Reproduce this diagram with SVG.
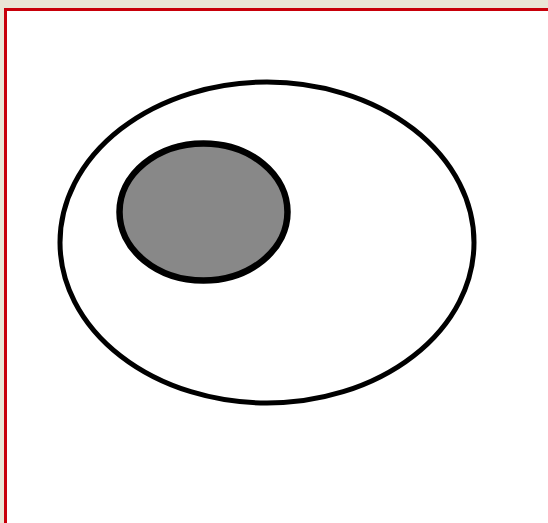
<svg xmlns="http://www.w3.org/2000/svg" width="548" height="523" viewBox="0 0 548 523">
<style>
.shape{stroke:#000;}
.frame{stroke:#C8000A;stroke-width:3;fill:none;}
</style>
<rect x="0" y="0" width="548" height="523" fill="#EAE6D6"/>
<rect x="4" y="8" width="544" height="515" fill="#fff"/>
<path class="frame" d="M5.5,523 V9.5 H548"/>
<g id="outer">
<ellipse class="shape" cx="267" cy="242.5" rx="207" ry="160.5" fill="none" stroke-width="5"/>
</g>
<g id="inner">
<ellipse class="shape" cx="203.5" cy="212" rx="84" ry="68.5" fill="#888888" stroke-width="6.5"/>
</g>
</svg>
